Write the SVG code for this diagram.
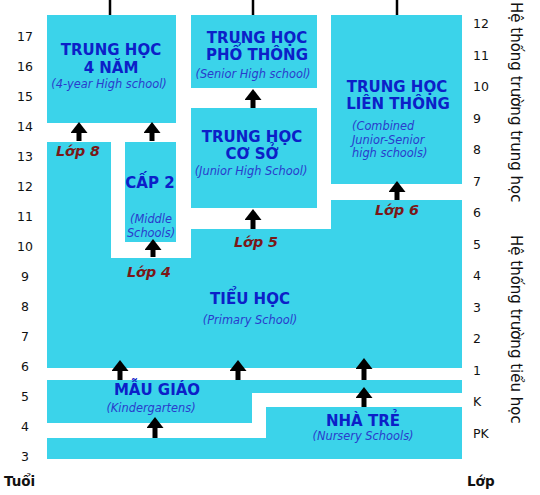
<svg xmlns="http://www.w3.org/2000/svg" width="540" height="495" viewBox="0 0 540 495">
<style>
.box{fill:#3bd3ea}
.t{font-family:"DejaVu Sans",Verdana,sans-serif;font-weight:bold;font-size:15px;fill:#0c20c8;text-anchor:middle}
.s{font-family:"DejaVu Sans",Verdana,sans-serif;font-style:italic;font-size:11.4px;fill:#2a3ccc;text-anchor:middle}
.l{font-family:"DejaVu Sans",Verdana,sans-serif;font-weight:bold;font-style:italic;font-size:14.3px;fill:#7a1818;text-anchor:middle}
.n{font-family:"DejaVu Sans",Verdana,sans-serif;font-size:12.5px;fill:#111}
.v{font-family:"DejaVu Sans",Verdana,sans-serif;font-size:15px;fill:#111}
.b{font-family:"DejaVu Sans",Verdana,sans-serif;font-weight:bold;font-size:13.5px;fill:#111}
.arr{stroke:#000;stroke-width:5;fill:none;marker-end:url(#ah)}
.top{stroke:#000;stroke-width:2.5}
</style>
<defs>
<marker id="ah" markerUnits="userSpaceOnUse" markerWidth="12" markerHeight="17" viewBox="0 0 12 17" refX="0" refY="8.5" orient="auto">
<path d="M0,0 L11,8.5 L0,17 z" fill="#000"/>
</marker>
</defs>
<rect width="540" height="495" fill="#fff"/>

<g id="th4nam">
<rect class="box" x="47" y="15" width="129" height="108"/>
<text class="t" x="111" y="55">TRUNG HỌC</text>
<text class="t" x="111" y="73">4 NĂM</text>
<text class="s" x="109" y="88">(4-year High school)</text>
</g>
<g id="thpt">
<rect class="box" x="191" y="15" width="126" height="73"/>
<text class="t" x="257" y="43">TRUNG HỌC</text>
<text class="t" x="257" y="60">PHỔ THÔNG</text>
<text class="s" x="253" y="78">(Senior High school)</text>
</g>
<g id="thcs">
<rect class="box" x="191" y="108" width="126" height="100"/>
<text class="t" x="252" y="142">TRUNG HỌC</text>
<text class="t" x="252" y="159">CƠ SỞ</text>
<text class="s" x="251" y="175">(Junior High School)</text>
</g>
<g id="thlt">
<rect class="box" x="331" y="15" width="131" height="169"/>
<text class="t" x="397" y="92">TRUNG HỌC</text>
<text class="t" x="398" y="109">LIÊN THÔNG</text>
<text class="s" x="352" y="130" style="text-anchor:start">(Combined</text>
<text class="s" x="352" y="143.5" style="text-anchor:start">Junior-Senior</text>
<text class="s" x="352" y="157" style="text-anchor:start">high schools)</text>
</g>
<g id="cap2">
<rect class="box" x="125" y="142" width="51" height="100"/>
<text class="t" x="150" y="188">CẤP 2</text>
<text class="s" x="151" y="223">(Middle</text>
<text class="s" x="151" y="237">Schools)</text>
</g>
<g id="tieuhoc">
<path class="box" d="M47,142 H111 V258 H191 V229 H331 V200 H462 V368 H47 Z"/>
<text class="t" x="250" y="304">TIỂU HỌC</text>
<text class="s" x="250" y="324">(Primary School)</text>
<text class="l" x="78" y="156">Lớp 8</text>
<text class="l" x="149" y="277">Lớp 4</text>
<text class="l" x="256" y="247">Lớp 5</text>
<text class="l" x="397" y="215">Lớp 6</text>
</g>
<g id="maugiao">
<path class="box" d="M47,380 H462 V393 H252 V423 H47 Z"/>
<text class="t" x="157" y="395">MẪU GIÁO</text>
<text class="s" x="151" y="412">(Kindergartens)</text>
</g>
<g id="nhatre">
<path class="box" d="M266,407 H462 V459 H47 V438 H266 Z"/>
<text class="t" x="363" y="426">NHÀ TRẺ</text>
<text class="s" x="363" y="440">(Nursery Schools)</text>
</g>

<g id="connectors">
<line class="top" x1="110" y1="0" x2="110" y2="15"/>
<line class="top" x1="253" y1="0" x2="253" y2="15"/>
<line class="top" x1="397" y1="0" x2="397" y2="15"/>
<line class="arr" x1="79" y1="141" x2="79" y2="133"/>
<line class="arr" x1="152" y1="141" x2="152" y2="133"/>
<line class="arr" x1="153" y1="257" x2="153" y2="250"/>
<line class="arr" x1="253" y1="108" x2="253" y2="100"/>
<line class="arr" x1="253" y1="229" x2="253" y2="220"/>
<line class="arr" x1="397" y1="200" x2="397" y2="192"/>
<line class="arr" x1="120" y1="380" x2="120" y2="371"/>
<line class="arr" x1="238" y1="380" x2="238" y2="371"/>
<line class="arr" x1="364" y1="380" x2="364" y2="369"/>
<line class="arr" x1="155" y1="438" x2="155" y2="428"/>
<line class="arr" x1="364" y1="407" x2="364" y2="398"/>
</g>

<g id="ages" class="n" text-anchor="middle">
<text x="25" y="41">17</text>
<text x="25" y="71">16</text>
<text x="25" y="101">15</text>
<text x="25" y="131">14</text>
<text x="25" y="161">13</text>
<text x="25" y="191">12</text>
<text x="25" y="221">11</text>
<text x="25" y="251">10</text>
<text x="25" y="281">9</text>
<text x="25" y="311">8</text>
<text x="25" y="341">7</text>
<text x="25" y="371">6</text>
<text x="25" y="401">5</text>
<text x="25" y="431">4</text>
<text x="25" y="461">3</text>
</g>
<g id="grades" class="n">
<text x="473" y="28">12</text>
<text x="473" y="59.5">11</text>
<text x="473" y="91">10</text>
<text x="473" y="122.5">9</text>
<text x="473" y="154">8</text>
<text x="473" y="185.5">7</text>
<text x="473" y="217">6</text>
<text x="473" y="248.5">5</text>
<text x="473" y="280">4</text>
<text x="473" y="311.5">3</text>
<text x="473" y="343">2</text>
<text x="473" y="374.5">1</text>
<text x="473" y="406">K</text>
<text x="473" y="437.5">PK</text>
</g>
<text class="b" x="4" y="486">Tuổi</text>
<text class="b" x="467" y="486">Lớp</text>
<text class="v" transform="translate(511,2) rotate(90)">Hệ thống trường trung học</text>
<text class="v" transform="translate(511,235) rotate(90)">Hệ thống trường tiểu học</text>
</svg>
